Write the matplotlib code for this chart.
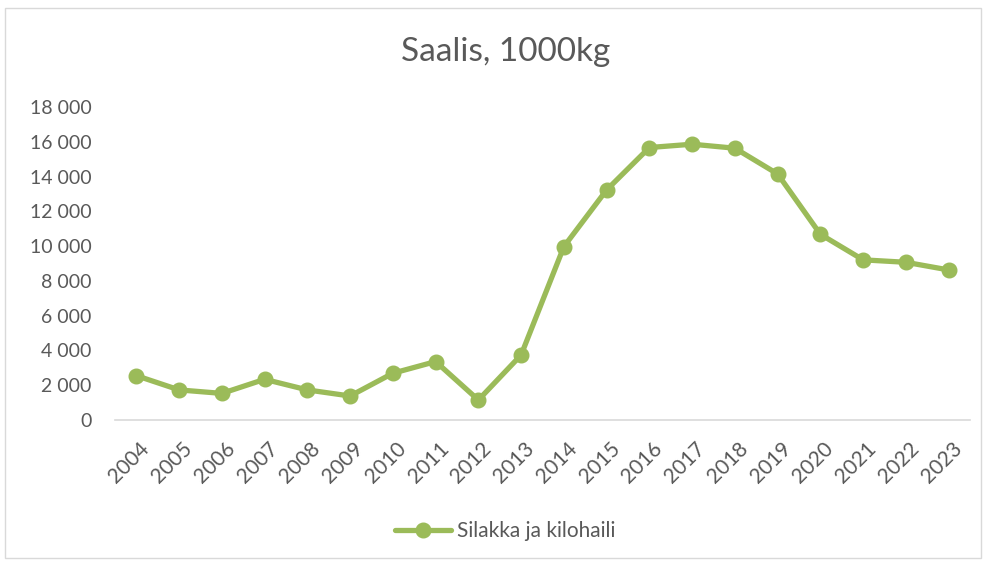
import matplotlib
matplotlib.use("Agg")
import matplotlib.pyplot as plt
from matplotlib.patches import Rectangle
import matplotlib.transforms as mtransforms

years = [str(y) for y in range(2004, 2024)]
values = [2550, 1730, 1530, 2340, 1730, 1380, 2690, 3360, 1150, 3740,
          9970, 13230, 15670, 15860, 15630, 14150, 10680, 9210, 9070, 8630]
yticks = [0, 2000, 4000, 6000, 8000, 10000, 12000, 14000, 16000, 18000]
ytick_labels = ["0", "2 000", "4 000", "6 000", "8 000", "10 000", "12 000",
                "14 000", "16 000", "18 000"]
series_name = "Silakka ja kilohaili"
title = "Saalis, 1000kg"

plt.rcParams['font.family'] = ['Lato', 'DejaVu Sans']
green = "#9BBB59"
txt = "#595959"

W, H = 986, 563
fig = plt.figure(figsize=(W / 100, H / 100), dpi=100)
fig.patch.set_facecolor("white")
fig.patches.append(Rectangle((5 / W, 1 - 558 / H), 976 / W, 550 / H,
                             transform=fig.transFigure, fill=False,
                             edgecolor="#D9D9D9", linewidth=1))

ax = fig.add_axes([115 / W, 1 - 420 / H, (970 - 115) / W, (420 - 107) / H])
x = list(range(len(years)))
ax.plot(x, values, color=green, linewidth=3.8, marker="o", markersize=10.5,
        label=series_name, solid_capstyle="round", solid_joinstyle="round")
ax.set_xlim(-0.5, len(years) - 0.5)
ax.set_ylim(0, 18000)
ax.set_yticks(yticks)
ax.set_yticklabels(ytick_labels)
ax.set_xticks(x)
ax.set_xticklabels(years, rotation=45, ha="right", rotation_mode="anchor")
for s in ["top", "right", "left"]:
    ax.spines[s].set_visible(False)
ax.spines["bottom"].set_color("#D9D9D9")
ax.spines["bottom"].set_linewidth(1.2)
ax.tick_params(axis="y", length=0, labelsize=14, labelcolor=txt, pad=17)
ax.tick_params(axis="x", length=0, labelsize=15, labelcolor=txt, pad=13)
off = mtransforms.ScaledTranslation(3 / 100, 0, fig.dpi_scale_trans)
for lab in ax.get_xticklabels():
    lab.set_transform(lab.get_transform() + off)

fig.text(506 / W, 1 - 52 / H, title, ha="center", va="center", fontsize=24,
         color=txt)

leg = fig.legend(loc="center", bbox_to_anchor=(505 / W, 1 - 531 / H),
                 frameon=False, fontsize=15, handlelength=2.7,
                 handletextpad=0.25, labelcolor=txt)

fig.savefig("out.png", dpi=100, facecolor="white")
